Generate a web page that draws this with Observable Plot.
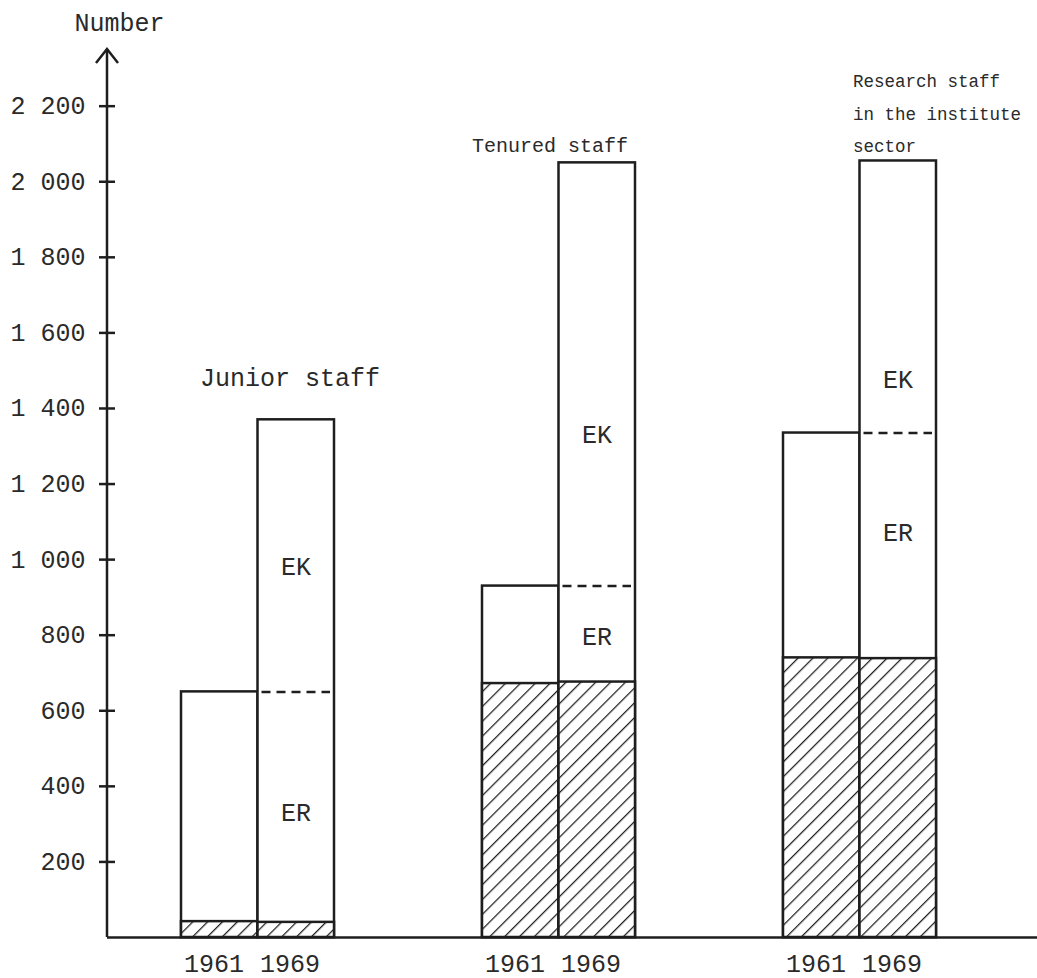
<!DOCTYPE html>
<html>
<head>
<meta charset="utf-8">
<script src="https://cdn.jsdelivr.net/npm/d3@7"></script>
<script src="https://cdn.jsdelivr.net/npm/@observablehq/plot@0.6"></script>
<style>
  body { margin: 0; background: #fff; }
  #chart svg { display: block; }
</style>
</head>
<body>
<div id="chart"></div>
<script>
// ---- data ----
const groups = ["Junior staff", "Tenured staff", "Research staff"];
const groupLabels = ["Junior staff", "Tenured staff", "Research staff\nin the institute\nsector"];
const years = ["1961", "1969"];
const total1961 = [650, 930, 1335];
const total1969 = [1370, 2050, 2055];
const hatched1961 = [42, 672, 740];
const hatched1969 = [40, 676, 738];
const ekLabelY = [980, 1330, 1475];
const erLabelY = [330, 795, 1070];
const groupLabelY = [1480, 2097, 2192];
const yTicks = [200, 400, 600, 800, 1000, 1200, 1400, 1600, 1800, 2000, 2200];
const yLabel = "Number";

// ---- layout / style ----
const W = 1037, H = 978;
const mL = 107, mR = 0, mT = 49, mB = 41;
const padIn = 0.4925, padOut = 0.2886, align = 0.42;
const step = (W - mL - mR) / (groups.length - padIn + 2 * padOut);
const half = step * (1 - padIn) / 2;
const ink = "#1e1e1e";
const textInk = "#2a2a2a";
const font = "'Liberation Mono', 'DejaVu Sans Mono', monospace";
const fs = 25;

const rows = groups.map((g, i) => ({
  group: g, t61: total1961[i], t69: total1969[i], h61: hatched1961[i], h69: hatched1969[i],
  ek: ekLabelY[i], er: erLabelY[i], label: groupLabels[i], ly: groupLabelY[i]
}));

const fmt = d => d >= 1000 ? `${Math.floor(d / 1000)} ${String(d % 1000).padStart(3, "0")}` : String(d);

const svgNS = "http://www.w3.org/2000/svg";
function el(name, attrs) {
  const e = document.createElementNS(svgNS, name);
  for (const k in attrs) e.setAttribute(k, attrs[k]);
  return e;
}

// pattern definition (hatching)
const defsMark = () => {
  const g = el("g", {});
  const defs = el("defs", {});
  const p = el("pattern", {id: "hatch", patternUnits: "userSpaceOnUse", width: 10.5, height: 10.5, patternTransform: "rotate(45)"});
  p.appendChild(el("rect", {x: 0, y: 0, width: 10.5, height: 10.5, fill: "white"}));
  p.appendChild(el("line", {x1: 0, y1: 0, x2: 0, y2: 10.5, stroke: ink, "stroke-width": 2.5}));
  defs.appendChild(p);
  g.appendChild(defs);
  return g;
};

// y axis line with arrow head
const axisLineMark = (index, scales, values, dims) => {
  const g = el("g", {fill: "none", stroke: ink, "stroke-width": 2.5});
  const x = dims.marginLeft;
  g.appendChild(el("line", {x1: x, x2: x, y1: scales.y(0), y2: dims.marginTop}));
  g.appendChild(el("polyline", {points: `${x - 11},${dims.marginTop + 14} ${x},${dims.marginTop} ${x + 11},${dims.marginTop + 14}`, "stroke-linejoin": "miter"}));
  return g;
};

const byGroup = g => rows.filter(r => r.group === g);

const plot = Plot.plot({
  width: W,
  height: H,
  marginLeft: mL, marginRight: mR, marginTop: mT, marginBottom: mB,
  style: {fontFamily: font, fontSize: fs + "px", color: textInk, background: "#fff"},
  x: {type: "band", domain: groups, paddingInner: padIn, paddingOuter: padOut, align, axis: null},
  y: {domain: [0, 2350], axis: null},
  marks: [
    defsMark,
    Plot.barY(rows, {x: "group", y1: 0, y2: "t61", fill: "white", stroke: ink, strokeWidth: 2.5, insetRight: half}),
    Plot.barY(rows, {x: "group", y1: 0, y2: "h61", fill: "url(#hatch)", stroke: ink, strokeWidth: 2.5, insetRight: half}),
    Plot.barY(rows, {x: "group", y1: 0, y2: "t69", fill: "white", stroke: ink, strokeWidth: 2.5, insetLeft: half}),
    Plot.barY(rows, {x: "group", y1: 0, y2: "h69", fill: "url(#hatch)", stroke: ink, strokeWidth: 2.5, insetLeft: half}),
    Plot.tickY(rows, {x: "group", y: "t61", insetLeft: half + 4, insetRight: 4, stroke: ink, strokeWidth: 2.5, strokeDasharray: "9,6"}),
    Plot.ruleY([0], {stroke: ink, strokeWidth: 2.5}),
    axisLineMark,
    Plot.axisY({ticks: yTicks, tickFormat: fmt, tickSize: 16, dx: 8, tickPadding: 14, stroke: ink, strokeWidth: 2.5, fill: textInk, fontSize: fs, label: null}),
    Plot.text([yLabel], {frameAnchor: "top-left", lineAnchor: "middle", dx: 12, dy: -27, textAnchor: "middle", fill: textInk, fontSize: fs}),
    Plot.text(rows, {x: "group", text: () => years[0], frameAnchor: "bottom", lineAnchor: "middle", dx: -44, dy: 26, fill: textInk, fontSize: fs}),
    Plot.text(rows, {x: "group", text: () => years[1], frameAnchor: "bottom", lineAnchor: "middle", dx: 32, dy: 26, fill: textInk, fontSize: fs}),
    Plot.text(rows, {x: "group", y: "ek", text: () => "EK", dx: 38, fill: textInk, fontSize: fs}),
    Plot.text(rows, {x: "group", y: "er", text: () => "ER", dx: 38, fill: textInk, fontSize: fs}),
    Plot.text(byGroup(groups[0]), {x: "group", y: "ly", text: "label", textAnchor: "start", dx: -58, fill: textInk, fontSize: fs}),
    Plot.text(byGroup(groups[1]), {x: "group", y: "ly", text: "label", textAnchor: "start", dx: -87, fill: textInk, fontSize: 20}),
    Plot.text(byGroup(groups[2]), {x: "group", y: "ly", text: "label", textAnchor: "start", dx: -7, lineHeight: 1.85, fill: textInk, fontSize: 17.5})
  ]
});

document.getElementById("chart").appendChild(plot);
</script>
</body>
</html>
